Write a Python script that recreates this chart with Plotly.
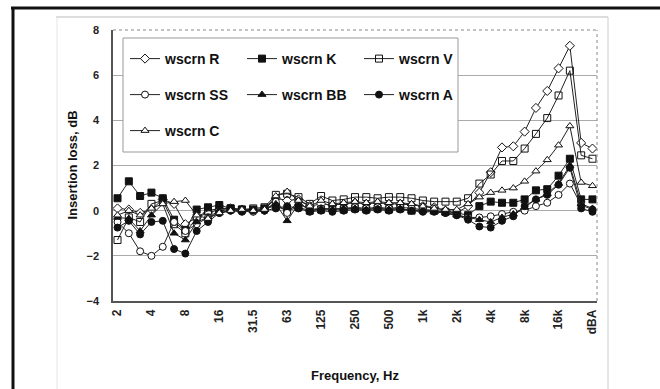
import plotly.graph_objects as go

categories = ["2", "2.5", "3.15", "4", "5", "6.3", "8", "10", "12.5", "16", "20", "25",
              "31.5", "40", "50", "63", "80", "100", "125", "160", "200", "250", "315",
              "400", "500", "630", "800", "1k", "1.25k", "1.6k", "2k", "2.5k", "3.15k",
              "4k", "5k", "6.3k", "8k", "10k", "12.5k", "16k", "20k", "dBL", "dBA"]
tick_labels = ["2", "4", "8", "16", "31.5", "63", "125", "250", "500", "1k", "2k", "4k",
               "8k", "16k", "dBA"]

r_vals = [0.1, 0.05, -0.1, 0.05, 0.5, 0.3, -0.6, -0.3, -0.1, 0.05, 0.1, 0.05, 0.0, 0.05,
          0.55, 0.45, 0.5, 0.2, 0.3, 0.25, 0.3, 0.35, 0.3, 0.35, 0.3, 0.3, 0.25, 0.2, 0.15,
          0.0, -0.1, 0.2, 0.8, 1.7, 2.8, 2.85, 3.5, 4.55, 5.3, 6.3, 7.3, 3.0, 2.75]
k_vals = [0.55, 1.3, 0.65, 0.8, 0.55, -0.4, -0.85, 0.05, 0.15, 0.25, 0.1, 0.05, 0.05, 0.1,
          0.2, 0.0, 0.15, 0.0, 0.05, 0.1, 0.05, 0.1, 0.05, 0.1, 0.05, 0.1, 0.0, 0.05, 0.0,
          -0.05, -0.1, -0.2, 0.2, 0.4, 0.35, 0.35, 0.5, 0.9, 0.95, 1.55, 2.3, 0.5, 0.5]
v_vals = [-1.3, -0.3, -0.5, 0.3, 0.45, -0.6, -1.0, -0.3, 0.0, 0.1, 0.1, 0.05, 0.1, 0.15,
          0.7, 0.75, 0.6, 0.3, 0.65, 0.45, 0.5, 0.6, 0.6, 0.55, 0.6, 0.6, 0.55, 0.45, 0.4,
          0.4, 0.4, 0.55, 1.2, 1.6, 2.2, 2.2, 2.75, 3.4, 4.1, 5.1, 6.2, 2.45, 2.3]
ss_vals = [-0.5, -1.0, -1.8, -2.0, -1.6, -0.5, -0.9, -0.6, -0.3, -0.1, 0.0, 0.0, -0.05, 0.0,
           0.4, -0.1, 0.4, 0.0, 0.1, 0.05, 0.1, 0.15, 0.1, 0.15, 0.1, 0.15, 0.1, 0.05, 0.0,
           -0.1, -0.2, -0.3, -0.3, -0.25, -0.15, -0.05, 0.0, 0.2, 0.35, 0.7, 1.2, 0.25, 0.05]
bb_vals = [-0.3, -0.35, -0.9, -0.2, 0.3, -1.0, -1.3, -0.5, -0.3, 0.0, 0.05, 0.0, 0.0, 0.05,
           0.3, -0.45, 0.3, 0.05, 0.1, 0.05, 0.1, 0.1, 0.05, 0.1, 0.05, 0.1, 0.0, 0.0, -0.05,
           -0.1, -0.2, -0.3, -0.4, -0.5, -0.3, -0.15, 0.15, 0.5, 0.75, 1.2, 2.0, 0.3, 0.1]
a_vals = [-0.75, -0.45, -1.05, -0.5, -0.45, -1.7, -1.9, -0.9, -0.5, -0.1, 0.0, -0.05, 0.0,
          0.0, 0.1, 0.2, 0.1, -0.05, 0.0, -0.05, 0.0, 0.05, 0.0, 0.05, 0.0, 0.05, 0.0, -0.05,
          -0.05, -0.1, -0.2, -0.4, -0.7, -0.75, -0.45, -0.25, 0.2, 0.5, 0.7, 1.15, 1.9, 0.1,
          -0.05]
c_vals = [-0.2, 0.0, -0.2, 0.1, 0.3, 0.4, 0.45, -0.2, -0.35, -0.1, 0.0, 0.05, 0.0, 0.05,
          0.65, 0.85, 0.45, 0.2, 0.45, 0.3, 0.35, 0.4, 0.35, 0.4, 0.35, 0.35, 0.3, 0.2, 0.1,
          0.05, 0.05, 0.3, 0.6, 0.8, 0.9, 1.0, 1.3, 1.75, 2.25, 2.9, 3.75, 1.25, 1.1]

series = [
    ("wscrn R", r_vals, "diamond", "white", "legend"),
    ("wscrn K", k_vals, "square", "#111", "legend"),
    ("wscrn V", v_vals, "square-open", "#111", "legend"),
    ("wscrn SS", ss_vals, "circle", "white", "legend2"),
    ("wscrn BB", bb_vals, "triangle-up", "#111", "legend2"),
    ("wscrn A", a_vals, "circle", "#111", "legend2"),
    ("wscrn C", c_vals, "triangle-up", "white", "legend3"),
]

FONT = "Liberation Sans, Arial, sans-serif"
fig = go.Figure()
for name, vals, sym, fill, leg in series:
    fig.add_trace(go.Scatter(
        x=categories, y=vals, name=name, mode="lines+markers", legend=leg,
        line=dict(color="#222", width=1),
        marker=dict(symbol=sym, size=7, color=fill, line=dict(color="#111", width=1)),
    ))

def px_x(p):
    return (p - 113) / 484.0

def px_y(p):
    return (301 - p) / 271.0

leg_common = dict(orientation="h", xanchor="left", yanchor="middle",
                  x=px_x(125), bgcolor="rgba(0,0,0,0)", borderwidth=0,
                  entrywidth=72, itemwidth=30,
                  font=dict(family=FONT, size=14, color="#111", weight="bold"))

shapes = [
    # legend box
    dict(type="rect", xref="paper", yref="paper", x0=px_x(123), x1=px_x(458),
         y0=px_y(152), y1=px_y(38), line=dict(color="#999", width=1),
         fillcolor="white", layer="above"),
    # plot area top/right dotted borders
    dict(type="line", xref="paper", yref="paper", x0=0, x1=1, y0=1, y1=1,
         line=dict(color="#888", width=1, dash="dot")),
    dict(type="line", xref="paper", yref="paper", x0=1, x1=1, y0=0, y1=1,
         line=dict(color="#888", width=1, dash="dot")),
    # outer page frame (thick black)
    dict(type="line", xref="paper", yref="paper", x0=px_x(11), x1=px_x(662),
         y0=px_y(8), y1=px_y(8), line=dict(color="#111", width=3)),
    dict(type="line", xref="paper", yref="paper", x0=px_x(13), x1=px_x(13),
         y0=px_y(7), y1=px_y(392), line=dict(color="#111", width=3)),
    # chart area border (light gray)
    dict(type="line", xref="paper", yref="paper", x0=px_x(56), x1=px_x(608),
         y0=px_y(17), y1=px_y(17), line=dict(color="#bbb", width=1)),
    dict(type="line", xref="paper", yref="paper", x0=px_x(608), x1=px_x(608),
         y0=px_y(17), y1=px_y(392), line=dict(color="#ccc", width=1)),
    dict(type="line", xref="paper", yref="paper", x0=px_x(57), x1=px_x(57),
         y0=px_y(17), y1=px_y(392), line=dict(color="#e4e4e4", width=1)),
]

annotations = [
    dict(text="Insertion loss, dB", xref="paper", yref="paper", x=px_x(72), y=0.5,
         textangle=-90, showarrow=False, xanchor="center", yanchor="middle",
         font=dict(family=FONT, size=13, color="#111", weight="bold")),
    dict(text="Frequency, Hz", xref="paper", yref="paper", x=0.5, y=px_y(375),
         showarrow=False, xanchor="center", yanchor="middle",
         font=dict(family=FONT, size=13, color="#111", weight="bold")),
]

fig.update_layout(
    width=660, height=389,
    margin=dict(l=113, r=63, t=30, b=88),
    paper_bgcolor="white", plot_bgcolor="white",
    showlegend=True,
    legend=dict(leg_common, y=px_y(59)),
    legend2=dict(leg_common, y=px_y(95)),
    legend3=dict(leg_common, y=px_y(131)),
    shapes=shapes,
    annotations=annotations,
    xaxis=dict(type="category", categoryorder="array", categoryarray=categories,
               range=[-0.4, 42.4], tickmode="array",
               tickvals=tick_labels, ticktext=tick_labels, tickangle=-90,
               showgrid=False, zeroline=False, showline=True, linecolor="#555",
               linewidth=1.5, ticks="", ticklabelstandoff=2,
               tickfont=dict(family=FONT, size=12, color="#222", weight="bold")),
    yaxis=dict(range=[-4, 8], tickvals=[-4, -2, 0, 2, 4, 6, 8],
               showgrid=True, gridcolor="#aaaaaa", gridwidth=1, zeroline=False,
               showline=True, linecolor="#555", linewidth=1.5, ticks="",
               ticklabelstandoff=10,
               tickfont=dict(family=FONT, size=11, color="#222", weight="bold")),
)

fig.write_html("out.html")
